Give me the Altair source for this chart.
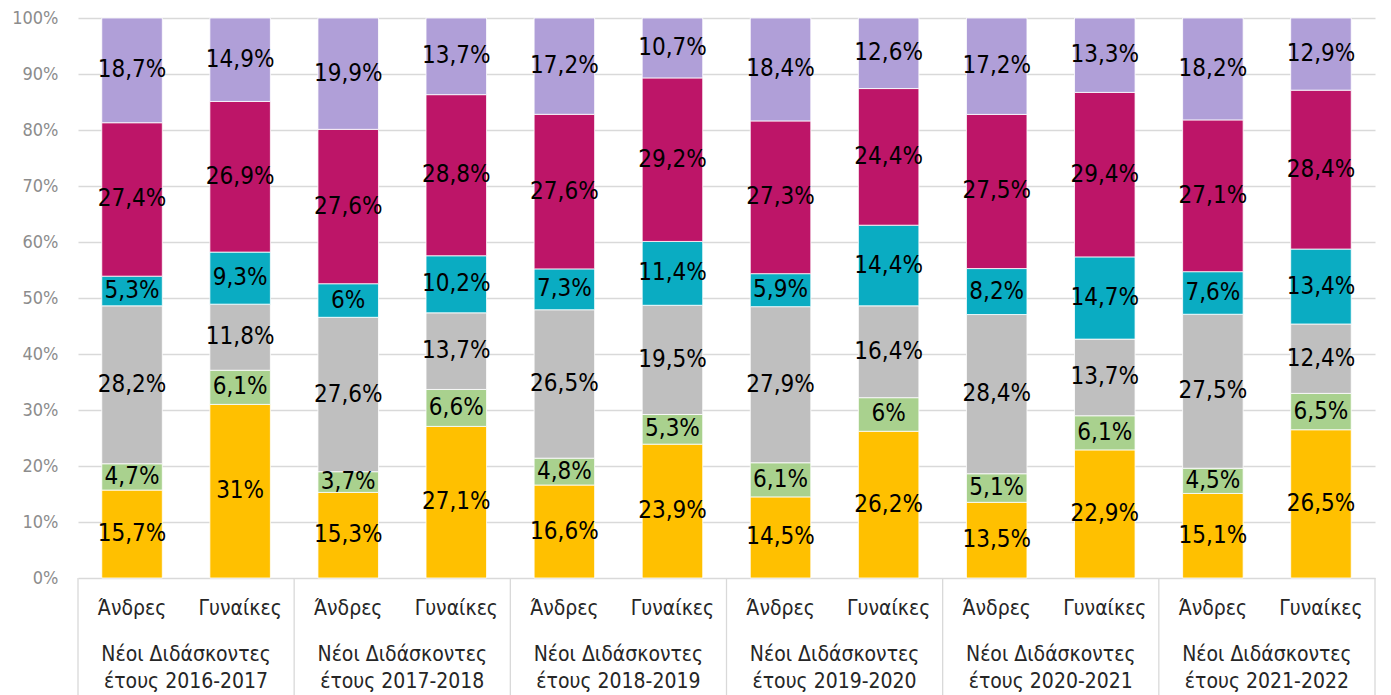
import altair as alt
import pandas as pd

years = ["2016-2017", "2017-2018", "2018-2019", "2019-2020", "2020-2021", "2021-2022"]
genders = ["Άνδρες", "Γυναίκες"]
categories = ["c1", "c2", "c3", "c4", "c5", "c6"]  # bottom to top
colors = ["#FFC000", "#A9D18E", "#BFBFBF", "#0AACC2", "#BD1568", "#B09FD8"]

# values per bar, bottom segment first
values = [
    [15.7, 4.7, 28.2, 5.3, 27.4, 18.7],
    [31.0, 6.1, 11.8, 9.3, 26.9, 14.9],
    [15.3, 3.7, 27.6, 6.0, 27.6, 19.9],
    [27.1, 6.6, 13.7, 10.2, 28.8, 13.7],
    [16.6, 4.8, 26.5, 7.3, 27.6, 17.2],
    [23.9, 5.3, 19.5, 11.4, 29.2, 10.7],
    [14.5, 6.1, 27.9, 5.9, 27.3, 18.4],
    [26.2, 6.0, 16.4, 14.4, 24.4, 12.6],
    [13.5, 5.1, 28.4, 8.2, 27.5, 17.2],
    [22.9, 6.1, 13.7, 14.7, 29.4, 13.3],
    [15.1, 4.5, 27.5, 7.6, 27.1, 18.2],
    [26.5, 6.5, 12.4, 13.4, 28.4, 12.9],
]

rows = []
for i, vals in enumerate(values):
    for k, v in enumerate(vals):
        rows.append({"idx": i, "gender": genders[i % 2], "year": years[i // 2],
                     "cat": categories[k], "order": k, "v": v})
df = pd.DataFrame(rows)

glab = pd.DataFrame({"idx": list(range(12)), "gender": [genders[i % 2] for i in range(12)]})
ylab = pd.DataFrame({"pos": [2 * g + 0.5 for g in range(6)],
                     "l1": ["Νέοι Διδάσκοντες"] * 6,
                     "l2": ["έτους " + y for y in years]})
seps = pd.DataFrame({"pos": [-0.5 + 2 * g for g in range(7)]})

W, H = 1297, 560
FONT = "DejaVu Sans Condensed, sans-serif"
xs = alt.Scale(domain=[-0.5, 11.5], nice=False, zero=False)
ys = alt.Scale(domain=[0, 100], nice=False)

base = alt.Chart(df).transform_stack(
    stack="v", groupby=["idx"], as_=["s0", "s1"], sort=[alt.SortField("order", "ascending")]
).transform_joinaggregate(
    total="sum(v)", groupby=["idx"]
).transform_calculate(
    y0="datum.s0 / datum.total * 100",
    y1="datum.s1 / datum.total * 100",
    ym="(datum.s0 + datum.s1) / 2 / datum.total * 100",
    xl="datum.idx - 0.28",
    xr="datum.idx + 0.28",
    lab="replace(format(datum.v, '.1~f'), '.', ',') + '%'",
)

bars = base.mark_bar(stroke="white", strokeWidth=0.8).encode(
    x=alt.X("xl:Q", scale=xs, axis=None),
    x2="xr:Q",
    y=alt.Y("y0:Q", scale=ys, title=None,
            axis=alt.Axis(values=list(range(0, 101, 10)), labelExpr="datum.value + '%'",
                          grid=True, gridColor="#d9d9d9", gridWidth=1.3, domain=False, ticks=False,
                          labelFontSize=18, labelColor="#8c8c8c", labelPadding=20, labelFont=FONT)),
    y2="y1:Q",
    color=alt.Color("cat:N", scale=alt.Scale(domain=categories, range=colors), legend=None),
)

texts = base.mark_text(fontSize=24, font=FONT, color="black", baseline="middle").encode(
    x=alt.X("idx:Q", scale=xs),
    y=alt.Y("ym:Q", scale=ys),
    text="lab:N",
)

TXT = dict(fontSize=21, font=FONT, color="#262626", baseline="middle")
gtext = alt.Chart(glab).mark_text(**TXT).encode(
    x=alt.X("idx:Q", scale=xs), y=alt.value(H + 31), text="gender:N")
ytext1 = alt.Chart(ylab).mark_text(**TXT).encode(
    x=alt.X("pos:Q", scale=xs), y=alt.value(H + 77), text="l1:N")
ytext2 = alt.Chart(ylab).mark_text(**TXT).encode(
    x=alt.X("pos:Q", scale=xs), y=alt.value(H + 104), text="l2:N")
seprules = alt.Chart(seps).mark_rule(color="#d9d9d9", strokeWidth=1.3).encode(
    x=alt.X("pos:Q", scale=xs), y=alt.value(H), y2=alt.value(H + 130))

chart = alt.layer(bars, texts, gtext, ytext1, ytext2, seprules).properties(
    width=W, height=H,
    autosize=alt.AutoSizeParams(type="none"),
    padding={"left": 70, "top": 10, "right": 6, "bottom": 117},
).configure_view(stroke=None)

chart.save("out.html", embed_options={"renderer": "svg", "actions": False})
